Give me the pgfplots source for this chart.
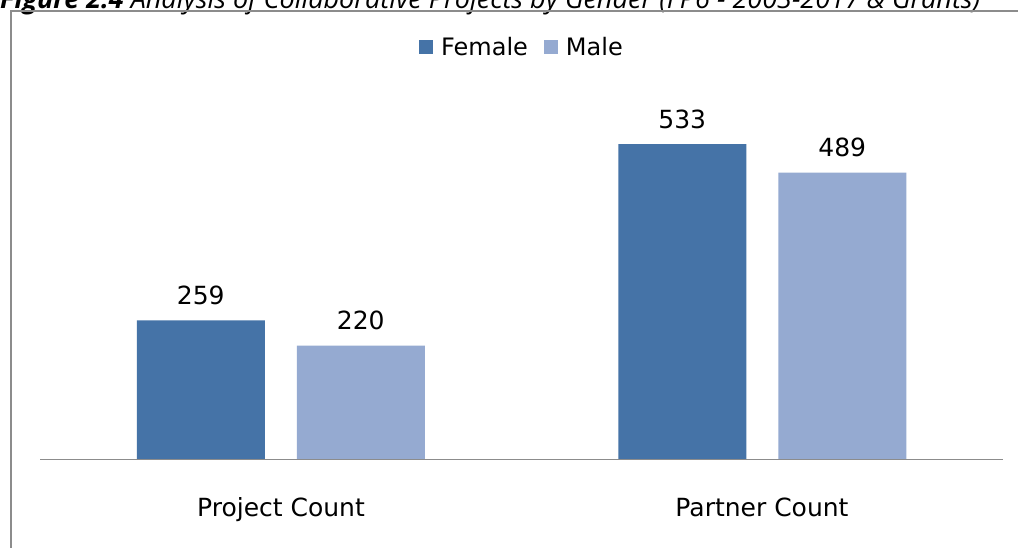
\documentclass[border=0pt]{standalone}
\usepackage{pgfplots}
\pgfplotsset{compat=1.18}
\usepackage{fontspec}
\setmainfont{DejaVu Sans}
\newfontfamily\titlefont{Open Sans}
\definecolor{fem}{HTML}{4573A7}
\definecolor{mal}{HTML}{95AAD1}
\definecolor{frm}{HTML}{8C8C8C}
\begin{document}
\begin{tikzpicture}
\useasboundingbox (0,0) rectangle (1018pt,548pt);
\clip (0,0) rectangle (1018pt,548pt);
\fill[white] (0,0) rectangle (1018pt,548pt);
\node[anchor=base west,inner sep=0pt,font=\titlefont\fontsize{27}{30}\selectfont] at (0pt,539pt)
  {\textbf{\textit{Figure 2.4}} \textit{Analysis of Collaborative Projects by Gender (FP6 - 2003-2017 \& Grants)}};
\draw[frm,line width=2pt] (11pt,-20pt) rectangle (1040pt,537pt);
\begin{axis}[
  at={(40pt,88pt)}, anchor=south west,
  scale only axis, width=963pt, height=400pt,
  xmin=-0.5, xmax=1.5, ymin=42, ymax=664,
  axis lines=none,
  ybar=32pt, bar width=128pt,
  xtick={0,1}, xticklabels={Project Count, Partner Count},
  major tick length=0pt,
  nodes near coords,
  /pgf/number format/assume math mode=true,
  every node near coord/.append style={font=\fontsize{25}{28}\selectfont, yshift=12pt, text=black},
  legend columns=2,
  legend style={at={(0.5036,1.0325)}, anchor=center, draw=none, fill=none,
    font=\fontsize{24}{27}\selectfont,
    nodes={inner xsep=8pt},
    /tikz/every even column/.append style={column sep=8pt}},
  legend image code/.code={\fill[#1,draw=none] (0pt,-7pt) rectangle (14pt,7pt);},
]
\addplot[fill=fem, draw=none] coordinates {(0,259) (1,533)};
\addplot[fill=mal, draw=none] coordinates {(0,220) (1,489)};
\legend{Female, Male}
\draw[frm,line width=2pt] (rel axis cs:0,0) -- (rel axis cs:1,0);
\end{axis}
\node[font=\fontsize{25}{28}\selectfont, anchor=base] at (281pt,31pt) {Project Count};
\node[font=\fontsize{25}{28}\selectfont, anchor=base] at (762pt,31pt) {Partner Count};
\end{tikzpicture}
\end{document}
